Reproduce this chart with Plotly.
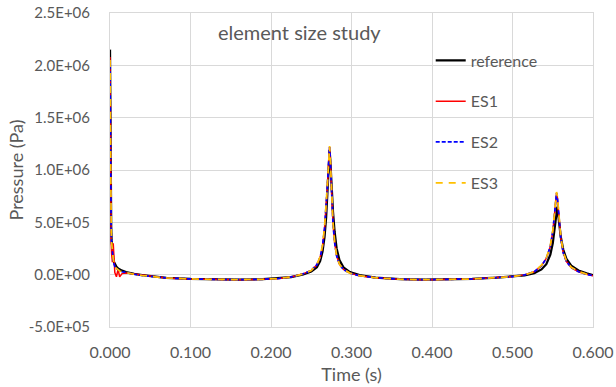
import plotly.graph_objects as go

# ---- data (Pa) ----
time_s = [
    0.0000, 0.0005, 0.0010, 0.0015, 0.0020, 0.0030, 0.0040, 0.0050, 0.0060, 0.0080,
    0.0100, 0.0120, 0.0150, 0.0200, 0.0250, 0.0300, 0.0400, 0.0500, 0.0700, 0.1000,
    0.1300, 0.1600, 0.1900, 0.2100, 0.2250, 0.2400, 0.2500, 0.2570, 0.2610, 0.2640,
    0.2665, 0.2685, 0.2700, 0.2712, 0.2720, 0.2728, 0.2736, 0.2745, 0.2755, 0.2770,
    0.2790, 0.2815, 0.2850, 0.2900, 0.2980, 0.3100, 0.3300, 0.3600, 0.3900, 0.4200,
    0.4500, 0.4800, 0.5000, 0.5150, 0.5270, 0.5360, 0.5420, 0.5470, 0.5500, 0.5520,
    0.5535, 0.5547, 0.5557, 0.5567, 0.5580, 0.5600, 0.5630, 0.5670, 0.5730, 0.5820,
    0.5920, 0.6000,
]

reference = [
    2.15e6, 1.20e6, 0.70e6, 0.45e6, 0.33e6, 0.22e6, 0.16e6, 0.12e6, 0.10e6, 0.075e6,
    0.060e6, 0.050e6, 0.038e6, 0.025e6, 0.015e6, 0.008e6, -0.005e6, -0.015e6, -0.030e6, -0.040e6,
    -0.046e6, -0.047e6, -0.043e6, -0.036e6, -0.024e6, 0.002e6, 0.030e6, 0.070e6, 0.13e6, 0.22e6,
    0.36e6, 0.55e6, 0.76e6, 0.98e6, 1.14e6, 1.19e6, 1.10e6, 0.96e6, 0.80e6, 0.60e6,
    0.41e6, 0.25e6, 0.14e6, 0.07e6, 0.025e6, -0.005e6, -0.028e6, -0.042e6, -0.047e6, -0.046e6,
    -0.040e6, -0.029e6, -0.019e6, -0.006e6, 0.015e6, 0.05e6, 0.10e6, 0.19e6, 0.30e6, 0.42e6,
    0.54e6, 0.63e6, 0.65e6, 0.58e6, 0.48e6, 0.36e6, 0.24e6, 0.15e6, 0.085e6, 0.04e6,
    0.012e6, -0.005e6,
]

es1 = [
    2.08e6, 1.00e6, 0.55e6, 0.30e6, 0.20e6, 0.12e6, 0.30e6, 0.10e6, 0.02e6, -0.02e6,
    0.05e6, -0.02e6, 0.010e6, 0.015e6, 0.010e6, 0.004e6, -0.008e6, -0.017e6, -0.031e6, -0.041e6,
    -0.047e6, -0.048e6, -0.044e6, -0.036e6, -0.022e6, 0.008e6, 0.040e6, 0.095e6, 0.165e6, 0.27e6,
    0.44e6, 0.64e6, 0.84e6, 1.01e6, 1.14e6, 1.22e6, 1.11e6, 0.91e6, 0.71e6, 0.49e6,
    0.31e6, 0.18e6, 0.10e6, 0.05e6, 0.015e6, -0.010e6, -0.030e6, -0.043e6, -0.048e6, -0.047e6,
    -0.041e6, -0.028e6, -0.018e6, -0.002e6, 0.028e6, 0.085e6, 0.155e6, 0.27e6, 0.41e6, 0.56e6,
    0.70e6, 0.78e6, 0.74e6, 0.64e6, 0.51e6, 0.35e6, 0.21e6, 0.125e6, 0.068e6, 0.028e6,
    0.004e6, -0.010e6,
]

es2 = [
    2.00e6, 1.10e6, 0.60e6, 0.40e6, 0.30e6, 0.20e6, 0.14e6, 0.10e6, 0.08e6, 0.06e6,
    0.045e6, 0.035e6, 0.028e6, 0.018e6, 0.010e6, 0.004e6, -0.008e6, -0.017e6, -0.031e6, -0.041e6,
    -0.047e6, -0.048e6, -0.044e6, -0.036e6, -0.022e6, 0.008e6, 0.040e6, 0.095e6, 0.165e6, 0.27e6,
    0.44e6, 0.64e6, 0.84e6, 1.01e6, 1.14e6, 1.22e6, 1.11e6, 0.91e6, 0.71e6, 0.49e6,
    0.31e6, 0.18e6, 0.10e6, 0.05e6, 0.015e6, -0.010e6, -0.030e6, -0.043e6, -0.048e6, -0.047e6,
    -0.041e6, -0.028e6, -0.018e6, -0.002e6, 0.028e6, 0.085e6, 0.155e6, 0.27e6, 0.41e6, 0.56e6,
    0.70e6, 0.78e6, 0.74e6, 0.64e6, 0.51e6, 0.35e6, 0.21e6, 0.125e6, 0.068e6, 0.028e6,
    0.004e6, -0.010e6,
]

es3 = [
    2.05e6, 1.15e6, 0.62e6, 0.42e6, 0.31e6, 0.20e6, 0.15e6, 0.11e6, 0.085e6, 0.06e6,
    0.045e6, 0.035e6, 0.028e6, 0.018e6, 0.010e6, 0.004e6, -0.008e6, -0.017e6, -0.031e6, -0.041e6,
    -0.047e6, -0.048e6, -0.044e6, -0.036e6, -0.022e6, 0.008e6, 0.040e6, 0.10e6, 0.17e6, 0.28e6,
    0.45e6, 0.65e6, 0.85e6, 1.02e6, 1.15e6, 1.23e6, 1.12e6, 0.92e6, 0.72e6, 0.50e6,
    0.32e6, 0.18e6, 0.10e6, 0.05e6, 0.015e6, -0.010e6, -0.030e6, -0.043e6, -0.048e6, -0.047e6,
    -0.041e6, -0.028e6, -0.018e6, -0.002e6, 0.028e6, 0.09e6, 0.16e6, 0.28e6, 0.42e6, 0.57e6,
    0.71e6, 0.79e6, 0.75e6, 0.65e6, 0.52e6, 0.36e6, 0.22e6, 0.13e6, 0.07e6, 0.03e6,
    0.005e6, -0.010e6,
]

series_names = ["reference", "ES1", "ES2", "ES3"]

x_tick_vals = [0.0, 0.1, 0.2, 0.3, 0.4, 0.5, 0.6]
x_tick_text = ["0.000", "0.100", "0.200", "0.300", "0.400", "0.500", "0.600"]
y_tick_vals = [-5e5, 0, 5e5, 1.0e6, 1.5e6, 2.0e6, 2.5e6]
y_tick_text = ["-5.0E+05", "0.0E+00", "5.0E+05", "1.0E+06", "1.5E+06", "2.0E+06", "2.5E+06"]

title_text = "element size study"
x_title = "Time (s)"
y_title = "Pressure (Pa)"

# ---- figure ----
FONT = "Lato, 'Open Sans', sans-serif"
TXT = "#595959"
GRID = "#d9d9d9"

styles = [
    dict(color="#000000", width=2.25),
    dict(color="#ff0000", width=1.5),
    dict(color="#0000ff", width=1.75, dash="4px,2px"),
    dict(color="#ffc000", width=1.75, dash="7px,6px"),
]

fig = go.Figure()
for name, vals, st in zip(series_names, [reference, es1, es2, es3], styles):
    fig.add_trace(go.Scatter(
        x=time_s, y=vals, mode="lines", name=name, line=st,
        legendgroup=name,
    ))

fig.update_layout(
    width=616, height=387,
    margin=dict(l=110, r=23, t=13, b=60, autoexpand=False),
    paper_bgcolor="white", plot_bgcolor="white",
    font=dict(family=FONT, color=TXT, size=16),
    showlegend=True,
    legend=dict(
        x=0.664, y=0.903, xanchor="left", yanchor="top",
        bgcolor="rgba(0,0,0,0)", font=dict(size=16, color=TXT),
        traceorder="grouped", tracegroupgap=17,
    ),
    annotations=[dict(
        text=title_text, xref="paper", yref="paper",
        x=0.393, y=0.94, xanchor="center", yanchor="middle",
        showarrow=False, font=dict(size=20, color=TXT, family=FONT),
    )],
)

fig.update_xaxes(
    range=[0, 0.6], tickvals=x_tick_vals, ticktext=x_tick_text,
    showgrid=True, gridcolor=GRID, gridwidth=1,
    showline=True, linecolor=GRID, linewidth=1, mirror=True,
    zeroline=False, ticks="", ticklabelstandoff=11, automargin=False,
    title=dict(text=x_title, font=dict(size=18, color=TXT), standoff=8),
    tickfont=dict(size=16, color=TXT),
)
fig.update_yaxes(
    range=[-5e5, 2.5e6], tickvals=y_tick_vals, ticktext=y_tick_text,
    showgrid=True, gridcolor=GRID, gridwidth=1,
    showline=True, linecolor=GRID, linewidth=1, mirror=True,
    zeroline=True, zerolinecolor=GRID, zerolinewidth=1,
    ticks="", ticklabelstandoff=16, automargin=False,
    title=dict(text=y_title, font=dict(size=18, color=TXT), standoff=0),
    tickfont=dict(size=15, color=TXT),
)

assert len(time_s) == len(reference) == len(es1) == len(es2) == len(es3)

fig.write_html(
    "out.html",
    config={"displayModeBar": False},
    post_script="document.body.style.margin='0';document.body.style.overflow='hidden';",
)
